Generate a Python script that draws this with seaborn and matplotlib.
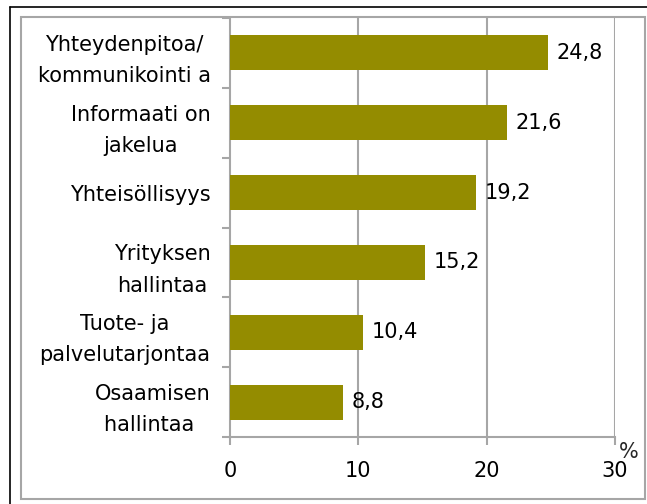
import numpy as np
import pandas as pd
import matplotlib
matplotlib.use("Agg")
import matplotlib.pyplot as plt
import seaborn as sns
from matplotlib.patches import Rectangle
from matplotlib.lines import Line2D

# data
categories = [
    "Yhteydenpitoa/\nkommunikointi a",
    "Informaati on\njakelua",
    "Yhteisöllisyys",
    "Yrityksen\nhallintaa",
    "Tuote- ja\npalvelutarjontaa",
    "Osaamisen\nhallintaa ",
]
values = [24.8, 21.6, 19.2, 15.2, 10.4, 8.8]
value_labels = ["24,8", "21,6", "19,2", "15,2", "10,4", "8,8"]
x_ticks = [0, 10, 20, 30]

bar_color = "#948C00"
grid_color = "#A6A6A6"
fsize = 15

df = pd.DataFrame({"category": categories, "value": values})

sns.set_theme(style="white")
plt.rcParams["font.family"] = ["DejaVu Sans"]

W, H = 647, 504
fig = plt.figure(figsize=(W / 100, H / 100), dpi=100)
ax = fig.add_axes([230 / W, 1 - 437 / H, (615 - 230) / W, (437 - 18) / H])

sns.barplot(data=df, x="value", y="category", orient="h", color=bar_color,
            saturation=1, width=0.5, linewidth=0, edgecolor="none",
            ax=ax, zorder=3)

ax.set_xlim(0, 30)
ax.set_ylim(5.5, -0.5)
ax.set_xticks(x_ticks)
ax.set_xticklabels([str(t) for t in x_ticks])
ax.set_xlabel("")
ax.set_ylabel("")

# vertical gridlines
for t in x_ticks[1:]:
    ax.axvline(t, color=grid_color, lw=1.5, zorder=1)

for s in ["top", "right"]:
    ax.spines[s].set_visible(False)
for s in ["left", "bottom"]:
    ax.spines[s].set_color(grid_color)
    ax.spines[s].set_linewidth(1.5)

ax.tick_params(axis="x", bottom=True, direction="out", length=6, width=1.5,
               color=grid_color, pad=11, labelsize=fsize, labelcolor="black")
ax.tick_params(axis="y", which="major", left=False, length=0, pad=14,
               labelsize=fsize, labelcolor="black")
ax.set_yticks(np.arange(-0.5, 6, 1), minor=True)
ax.tick_params(axis="y", which="minor", left=True, direction="out", length=6,
               width=1.5, color=grid_color)
for lab in ax.get_yticklabels():
    lab.set_multialignment("center")
    lab.set_linespacing(1.7)

# value labels
for i, (v, txt) in enumerate(zip(values, value_labels)):
    ax.annotate(txt, xy=(v, i), xytext=(6, 0), textcoords="offset points",
                ha="left", va="center", fontsize=fsize, color="black")

ax.annotate("%", xy=(1, 0), xycoords="axes fraction", xytext=(10, -11),
            textcoords="offset points", ha="center", va="center", fontsize=fsize)

# chart frames
fig.add_artist(Rectangle((21 / W, 1 - 499 / H), (645 - 21) / W, (499 - 17) / H,
                         transform=fig.transFigure, fill=False,
                         edgecolor=grid_color, lw=1.5))
fig.add_artist(Line2D([10 / W, 1], [1 - 7 / H, 1 - 7 / H],
                      transform=fig.transFigure, color="black", lw=1.2))
fig.add_artist(Line2D([10 / W, 10 / W], [0, 1 - 7 / H],
                      transform=fig.transFigure, color="black", lw=1.2))

fig.savefig("out.png", dpi=100, facecolor="white")
